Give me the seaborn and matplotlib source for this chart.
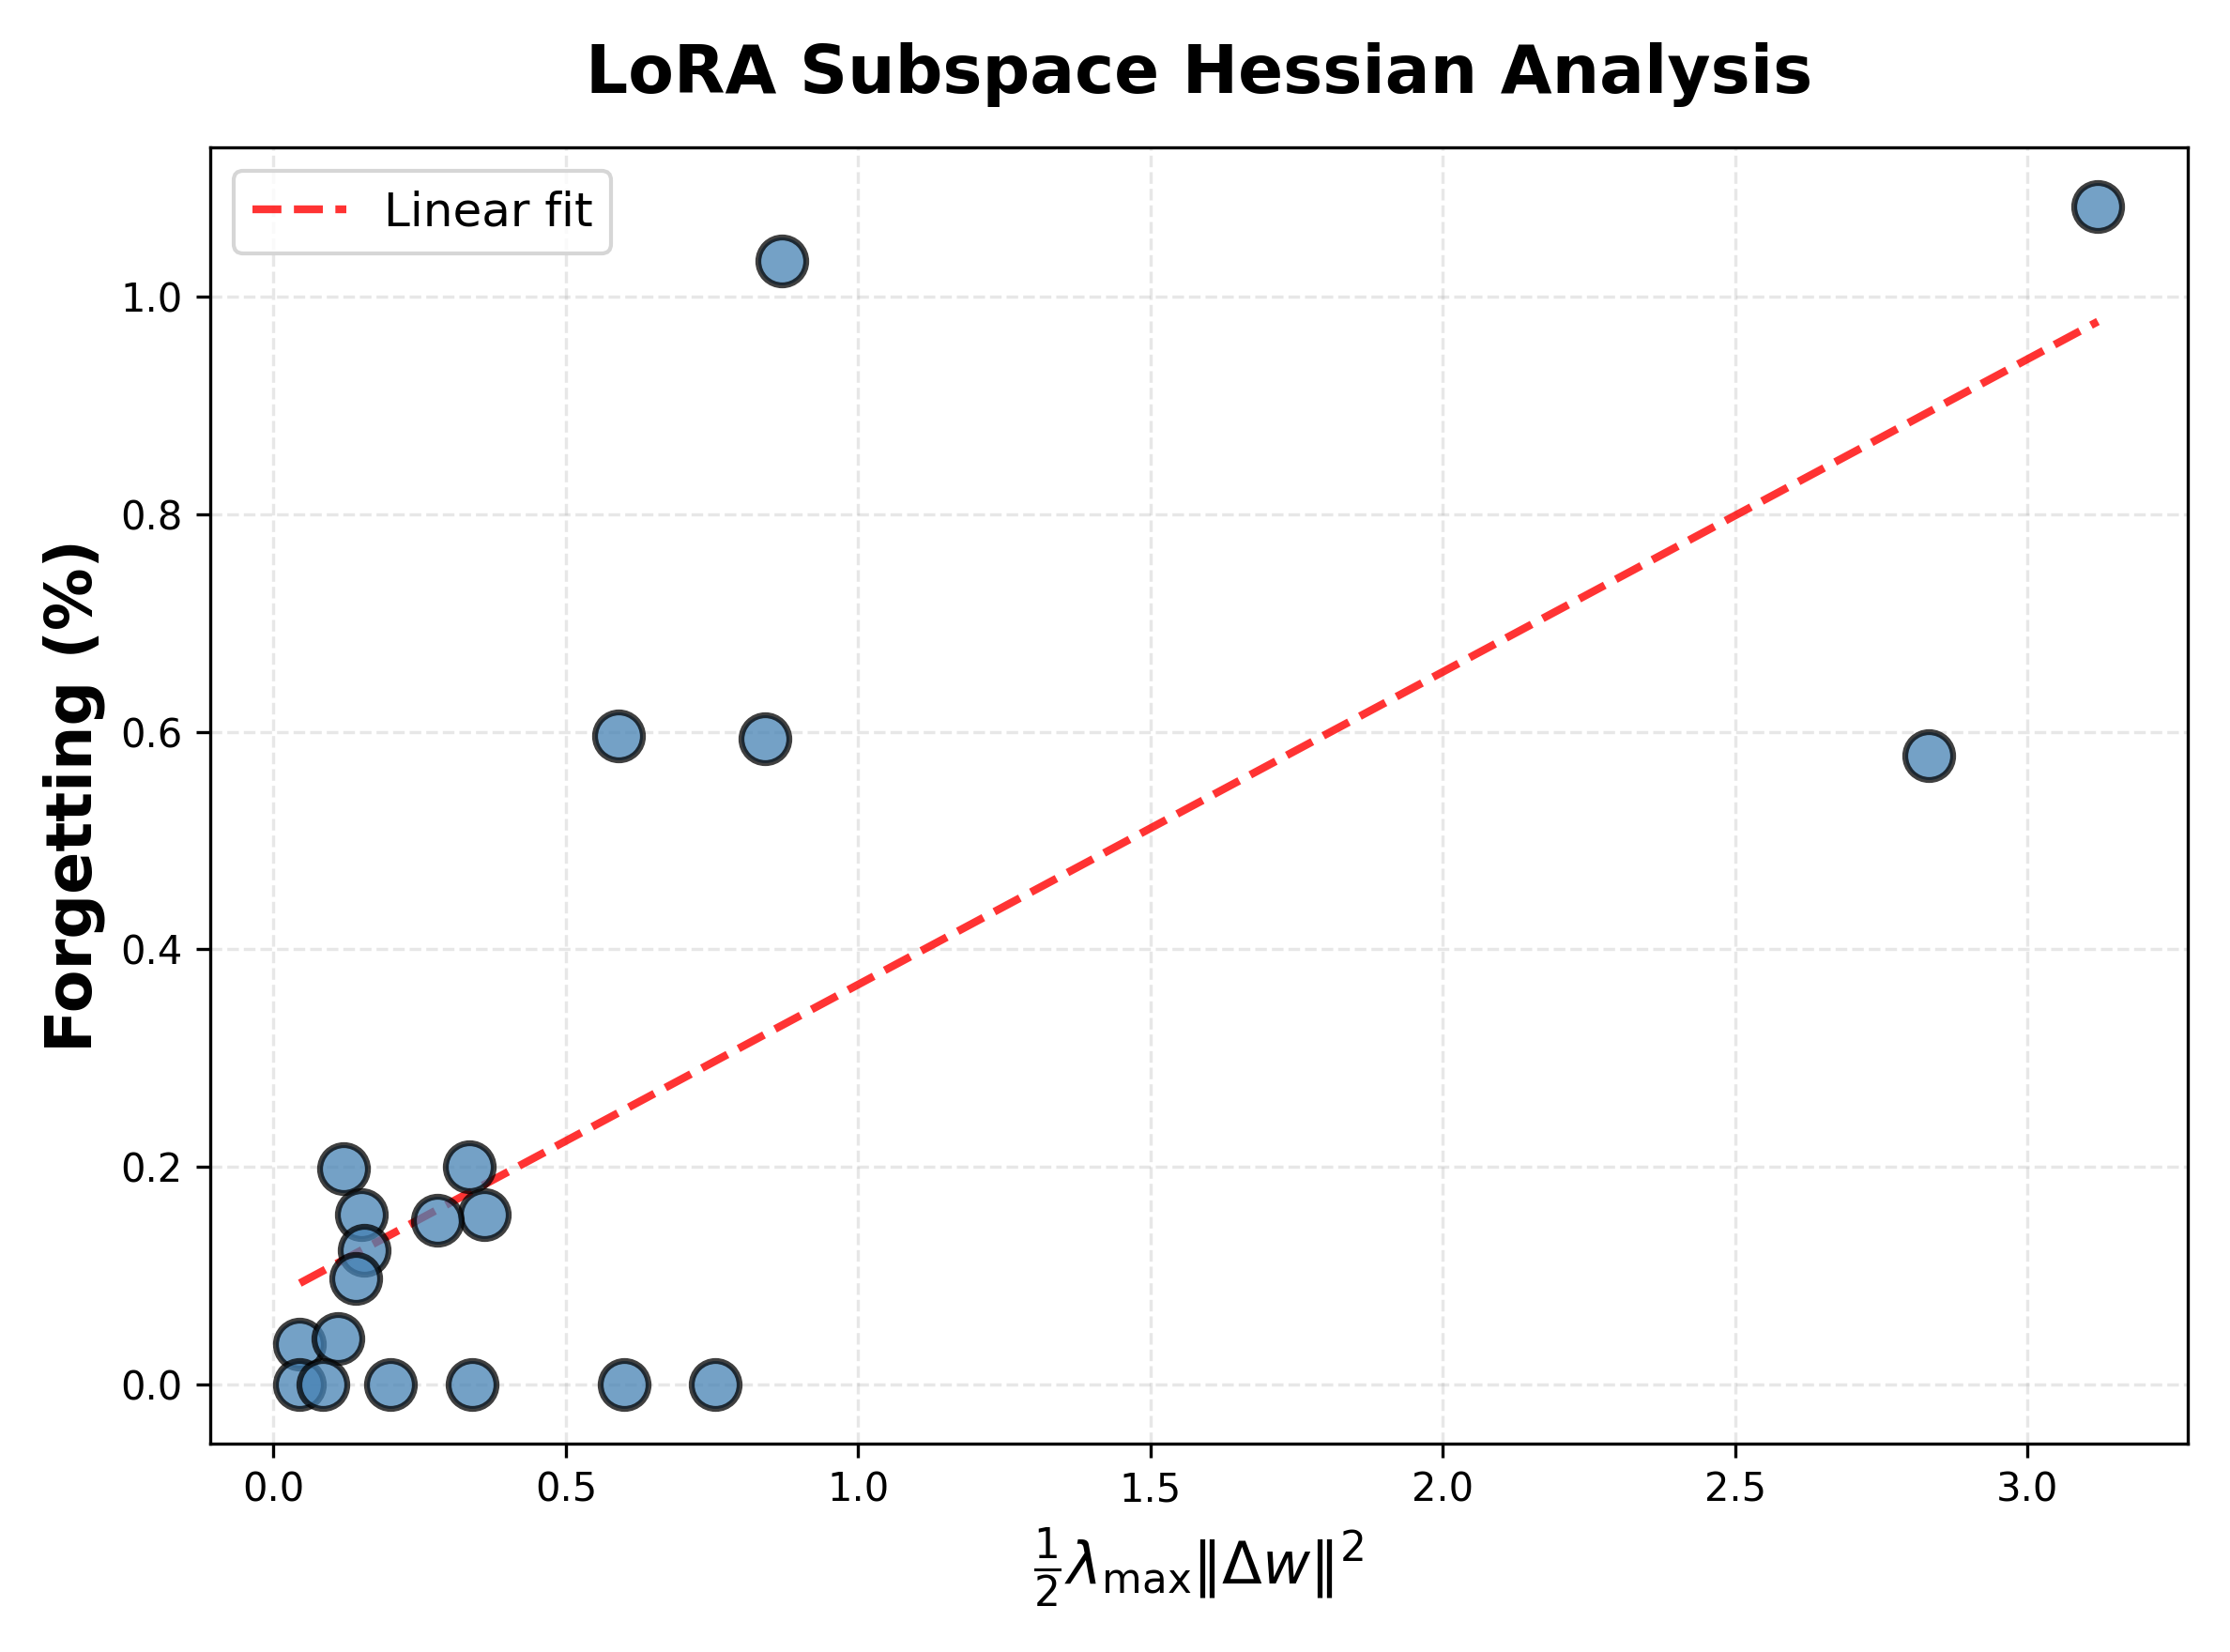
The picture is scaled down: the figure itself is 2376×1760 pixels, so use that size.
import numpy as np
import pandas as pd
import matplotlib
matplotlib.use('Agg')
import matplotlib.pyplot as plt
import seaborn as sns

# values
hess_term = [0.87, 3.12, 0.59, 0.84, 2.83, 0.12, 0.335, 0.15, 0.36, 0.28,
             0.155, 0.14, 0.045, 0.11, 0.045, 0.085, 0.20, 0.34, 0.60, 0.755]
forgetting = [1.033, 1.083, 0.596, 0.594, 0.578, 0.198, 0.200, 0.156, 0.156, 0.151,
              0.123, 0.097, 0.037, 0.042, 0.0, 0.0, 0.0, 0.0, 0.0, 0.0]

df = pd.DataFrame({'x': hess_term, 'y': forgetting})

plt.rcParams['font.family'] = ['DejaVu Sans']
fig, ax = plt.subplots(figsize=(7.92, 5.867), dpi=300)

sns.scatterplot(data=df, x='x', y='y', s=150, color='steelblue', alpha=0.75,
                edgecolor='black', linewidth=1.5, ax=ax, zorder=3)

# linear fit
coef = np.polyfit(df['x'], df['y'], 1)
xs = np.linspace(df['x'].min(), df['x'].max(), 100)
ax.plot(xs, np.polyval(coef, xs), 'r--', lw=2, alpha=0.8, label='Linear fit')

ax.set_xlabel(r'$\frac{1}{2}\lambda_{\max}\|\Delta w\|^2$', fontsize=15)
ax.set_ylabel('Forgetting (%)', fontsize=16, fontweight='bold')
ax.set_title('LoRA Subspace Hessian Analysis', fontsize=17, fontweight='bold', pad=14)
ax.grid(True, linestyle='--', alpha=0.3)
ax.legend(loc='upper left', fontsize=12)
ax.set_yticks([0.0, 0.2, 0.4, 0.6, 0.8, 1.0])

plt.tight_layout()
plt.savefig('out.png', dpi=300)
